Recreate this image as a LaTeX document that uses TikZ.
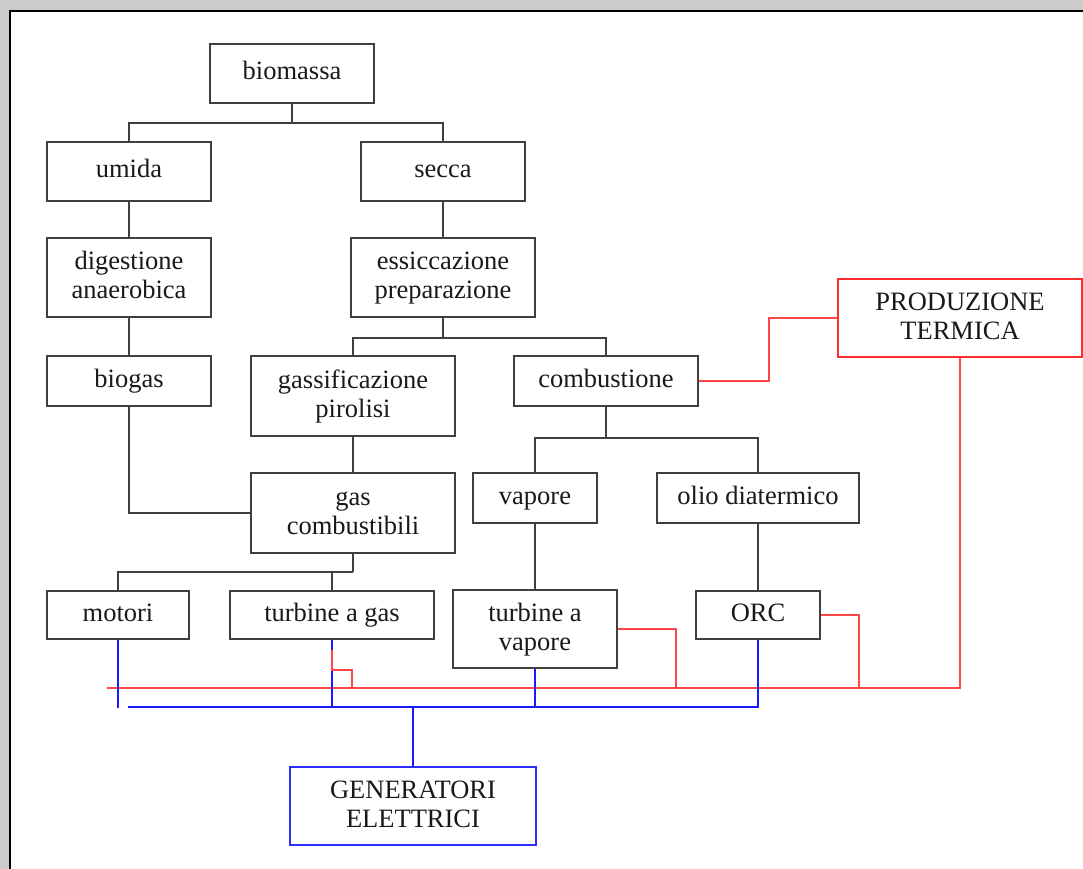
\documentclass[tikz,border=0pt]{standalone}
\usepackage{fontspec}
\setmainfont{Liberation Serif}
\newcommand\mystrut{\rule[-8pt]{0pt}{29pt}}
\begin{document}
\begin{tikzpicture}[x=1pt,y=-1pt,
  box/.style={draw=black!75,line width=2pt,inner sep=0pt,align=center,
    font=\fontsize{26.5}{29}\selectfont,text=black!90},
  blk/.style={draw=black!75,line width=2pt},
  rline/.style={draw={rgb,255:red,255;green,70;blue,70},line width=2pt},
  bline/.style={draw={rgb,255:red,25;green,25;blue,255},line width=2pt}]
\useasboundingbox (0,0) rectangle (1083,869);
\fill[gray!40] (0,0) rectangle (1083,869);
\fill[white] (10,11) rectangle (1083,869);
\draw[line width=2.6pt] (10,869) -- (10,11) -- (1083,11);

\node[box,minimum width=164,minimum height=59] (bio) at (292,73.5) {\mystrut biomassa};
\node[box,minimum width=164,minimum height=59] (umida) at (129,171.5) {\mystrut umida};
\node[box,minimum width=164,minimum height=59] (secca) at (443,171.5) {\mystrut secca};
\node[box,minimum width=164,minimum height=79] (dig) at (129,277.5) {\mystrut digestione\\\mystrut anaerobica};
\node[box,minimum width=184,minimum height=79] (ess) at (443,277.5) {\mystrut essiccazione\\\mystrut preparazione};
\node[box,minimum width=164,minimum height=50] (biogas) at (129,381) {\mystrut biogas};
\node[box,minimum width=204,minimum height=80] (gass) at (353,396) {\mystrut gassificazione\\\mystrut pirolisi};
\node[box,minimum width=184,minimum height=50] (comb) at (606,381) {\mystrut combustione};
\node[box,minimum width=204,minimum height=80] (gas) at (353,513) {\mystrut gas\\\mystrut combustibili};
\node[box,minimum width=124,minimum height=50] (vap) at (535,498) {\mystrut vapore};
\node[box,minimum width=202,minimum height=50] (olio) at (758,498) {\mystrut olio diatermico};
\node[box,minimum width=142,minimum height=48] (mot) at (118,615) {\mystrut motori};
\node[box,minimum width=204,minimum height=48] (tga) at (332,615) {\mystrut turbine a gas};
\node[box,minimum width=164,minimum height=78] (tv) at (535,629) {\mystrut turbine a\\\mystrut vapore};
\node[box,minimum width=124,minimum height=48] (orc) at (758,615) {\mystrut ORC};
\node[box,draw={rgb,255:red,255;green,45;blue,45},minimum width=244,minimum height=78] (prod) at (960,318) {\mystrut PRODUZIONE\\\mystrut TERMICA};
\node[box,draw={rgb,255:red,45;green,45;blue,255},minimum width=246,minimum height=78] (gen) at (413,806) {\mystrut GENERATORI\\\mystrut ELETTRICI};

% black tree connectors
\draw[blk] (bio.south) -- ++(0,19) coordinate (j1);
\draw[blk] (umida.north) |- (j1) -| (secca.north);
\draw[blk] (umida.south) -- (dig.north);
\draw[blk] (secca.south) -- (ess.north);
\draw[blk] (dig.south) -- (biogas.north);
\draw[blk] (ess.south) -- ++(0,20) coordinate (j2);
\draw[blk] (gass.north) |- (j2) -| (comb.north);
\draw[blk] (gass.south) -- (gas.north);
\draw[blk] (biogas.south) |- (gas.west);
\draw[blk] (comb.south) -- ++(0,31) coordinate (j3);
\draw[blk] (vap.north) |- (j3) -| (olio.north);
\draw[blk] (gas.south) -- ++(0,18) coordinate (j4);
\draw[blk] (mot.north) |- (j4);
\draw[blk] (tga.north) -- (tga.north |- j4);
\draw[blk] (vap.south) -- (tv.north);
\draw[blk] (olio.south) -- (orc.north);

% red (thermal) lines
\coordinate (rl) at (107,688);
\draw[rline] (comb.east) -- ++(70,0) |- (prod.west);
\draw[rline] (prod.south) |- (rl);
\draw[rline] (tv.east) -| (676,688);
\draw[rline] (orc.east) -| (859,688);

% blue (electric) lines
\coordinate (bl) at (128,707);
\draw[bline] (mot.south) -- ++(0,68);
\draw[bline] (bl) -| (orc.south);
\draw[bline] (tga.south) -- (tga.south |- bl);
\draw[bline] (tv.south) -- (tv.south |- bl);
\draw[bline] (gen.north) -- (gen.north |- bl);

% red branch over the blue line
\draw[rline] (tga.south) ++(0,10) -- ++(0,20) -- ++(20,0) -- ++(0,19);
\end{tikzpicture}
\end{document}
